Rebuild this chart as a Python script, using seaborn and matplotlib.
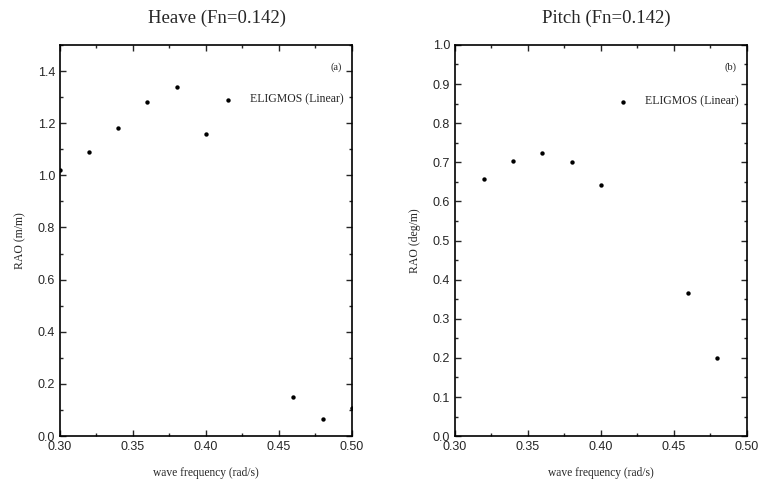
import matplotlib
matplotlib.use("Agg")
import matplotlib.pyplot as plt
import seaborn as sns
import pandas as pd
from matplotlib.ticker import MultipleLocator

sns.set_style("ticks")
plt.rcParams['font.family'] = ['Liberation Sans', 'DejaVu Sans']

heave_freq = [0.30, 0.32, 0.34, 0.36, 0.38, 0.40, 0.46, 0.48, 0.50]
heave_rao = [1.02, 1.09, 1.18, 1.283, 1.34, 1.16, 0.15, 0.066, 0.107]
pitch_freq = [0.32, 0.34, 0.36, 0.38, 0.40, 0.46, 0.48]
pitch_rao = [0.658, 0.703, 0.724, 0.701, 0.643, 0.365, 0.201]
series_label = "ELIGMOS (Linear)"

fig = plt.figure(figsize=(7.58, 4.83), dpi=100)
ax1 = fig.add_axes([0.079, 0.097, 0.385, 0.81])
ax2 = fig.add_axes([0.600, 0.097, 0.385, 0.81])

serif = ['Liberation Serif', 'DejaVu Serif']

def style(ax, title, ylabel, ymax, ymaj, ymin, panel, legy, tx):
    ax.set_xlim(0.30, 0.50)
    ax.set_ylim(0, ymax)
    ax.xaxis.set_major_locator(MultipleLocator(0.05))
    ax.xaxis.set_minor_locator(MultipleLocator(0.025))
    ax.yaxis.set_major_locator(MultipleLocator(ymaj))
    ax.yaxis.set_minor_locator(MultipleLocator(ymin))
    ax.tick_params(which='both', direction='in', top=True, right=True, labelsize=9, width=1)
    ax.tick_params(which='major', length=4)
    ax.tick_params(which='minor', length=2)
    ax.xaxis.set_major_formatter(matplotlib.ticker.FormatStrFormatter('%.2f'))
    ax.yaxis.set_major_formatter(matplotlib.ticker.FormatStrFormatter('%.1f'))
    for s in ax.spines.values():
        s.set_linewidth(1.2)
        s.set_color('black')
    ax.set_title(title, family=serif, fontsize=13.5, pad=16, x=tx)
    ax.set_xlabel("wave frequency (rad/s)", family=serif, fontsize=8.3, labelpad=10)
    ax.set_ylabel(ylabel, family=serif, fontsize=8.5, labelpad=8)
    ax.text(0.965, 0.955, panel, transform=ax.transAxes, family=serif, fontsize=7.5,
            ha='right', va='top')
    ax.legend(loc='center right', bbox_to_anchor=(0.99, legy), frameon=False,
              prop={'family': serif, 'size': 8.5}, handletextpad=0.9,
              markerscale=1.0, borderaxespad=0)

sns.scatterplot(x=heave_freq, y=heave_rao, ax=ax1, color='black', s=10,
                edgecolor='black', linewidth=0, label=series_label)
sns.scatterplot(x=pitch_freq, y=pitch_rao, ax=ax2, color='black', s=10,
                edgecolor='black', linewidth=0, label=series_label)

style(ax1, "Heave (Fn=0.142)", "RAO (m/m)", 1.5, 0.2, 0.1, "(a)", 1.29/1.5, 0.538)
style(ax2, "Pitch (Fn=0.142)", "RAO (deg/m)", 1.0, 0.1, 0.05, "(b)", 0.855, 0.52)

fig.savefig("out.png", dpi=100)
